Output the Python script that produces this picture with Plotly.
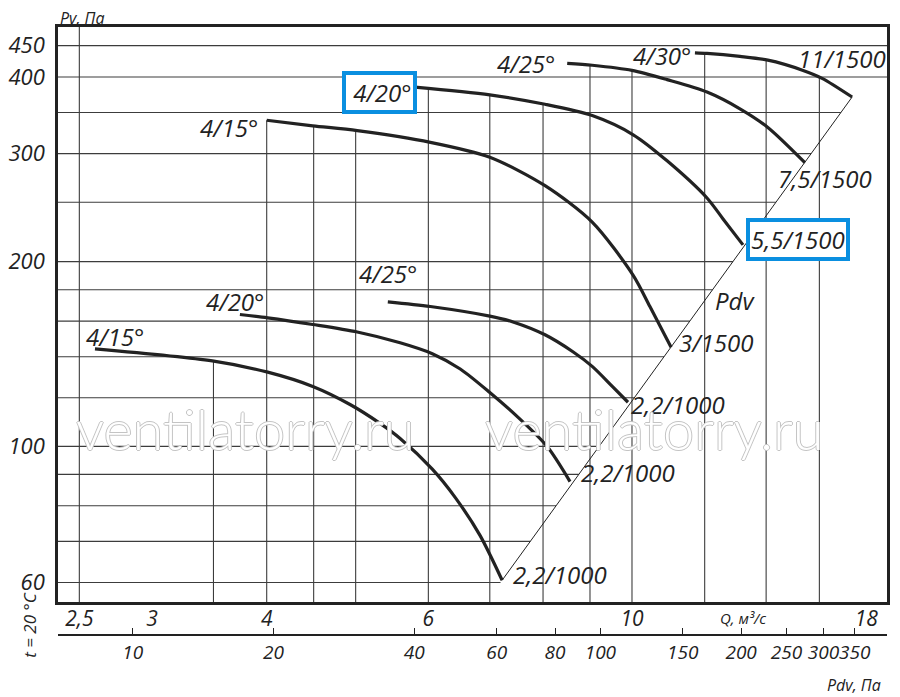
import numpy as np
import plotly.graph_objects as go

# curves: Q (m3/s) vs Pv (Pa)
q_a = [2.60, 3.49, 4.01, 4.49, 4.93, 5.31, 5.59, 6.06, 6.42, 6.83, 7.22]
p_a = [144.2, 137.8, 132.1, 125.2, 117, 109.1, 103, 91.8, 82.5, 71.6, 60.5]
q_b = [3.74, 4.01, 4.49, 5.02, 5.59, 6.06, 6.50, 7.00, 7.49, 8.08, 8.56]
p_b = [164, 162, 158, 153.6, 147.5, 141.6, 133.7, 122.4, 112, 100, 87.6]
q_c = [5.42, 6.03, 7.00, 7.42, 8.04, 8.63, 9.05, 9.53, 9.90]
p_c = [172, 169, 163, 159.5, 152, 142.5, 135, 125, 118]
q_d = [4.0, 4.49, 5.02, 6.03, 7.0, 8.04, 9.05, 10.03, 10.46, 11.03]
p_d = [340, 333, 327, 313, 296, 266, 232, 190, 169, 145]
q_e = [5.80, 7.00, 8.04, 9.05, 10.03, 10.92, 12.07, 12.56, 13.21]
p_e = [385, 374, 361, 346, 322, 292, 254, 235, 213]
q_f = [8.50, 9.05, 10.0, 10.92, 12.07, 13.11, 14.06, 15.43]
p_f = [421, 418, 410, 396, 378, 355, 331, 290]
q_g = [11.71, 12.07, 13.11, 14.06, 15.36, 16.11, 17.37]
p_g = [438, 437, 432, 426, 410, 398, 371]

start_labels = ["4/15°", "4/20°", "4/25°", "4/15°", "4/20°", "4/25°", "4/30°"]
end_labels = ["2,2/1000", "2,2/1000", "2,2/1000", "3/1500", "5,5/1500", "7,5/1500", "11/1500"]

# Pdv line (where the curves end)
pdv_q = [7.22, 17.37]
pdv_p = [60.5, 371]

grid_q = [2.5, 3.5, 4, 4.5, 5, 6, 7, 8, 9, 10, 12, 14, 16]
grid_p = [60, 70, 80, 90, 100, 120, 140, 160, 180, 200, 250, 300, 350, 400, 450]

q_ticks = [2.5, 3, 4, 6, 10, 18]
q_ticktext = ["2,5", "3", "4", "6", "10", "18"]
p_ticks = [60, 100, 200, 300, 400, 450]
p_ticktext = ["60", "100", "200", "300", "400", "450"]
pdv_ticks = [10, 20, 40, 60, 80, 100, 150, 200, 250, 300, 350]

curves = [(q_a, p_a), (q_b, p_b), (q_c, p_c), (q_d, p_d), (q_e, p_e), (q_f, p_f), (q_g, p_g)]

x_range = [0.3747, 1.2778]
y_range = [1.7463, 2.6835]
ink = "#222222"
grid_col = "#3c3c3c"
blue = "#0a8fe0"
FONT = "Open Sans"

fig = go.Figure()

# vertical grid: from bottom up to the highest curve above it
vx, vy = [], []
for q in grid_q:
    tops = []
    for cq, cp in curves:
        if cq[0] <= q <= cq[-1]:
            tops.append(10 ** np.interp(np.log10(q), np.log10(cq), np.log10(cp)))
    top = max(tops) if tops else 10 ** y_range[1]
    vx += [q, q, None]
    vy += [10 ** y_range[0], top, None]

# horizontal grid: from left edge to the Pdv line
k = (np.log10(pdv_q[1]) - np.log10(pdv_q[0])) / (np.log10(pdv_p[1]) - np.log10(pdv_p[0]))
hx, hy = [], []
for p in grid_p:
    if p <= pdv_p[1]:
        right = 10 ** (np.log10(pdv_q[0]) + k * (np.log10(p) - np.log10(pdv_p[0])))
    else:
        right = 10 ** x_range[1]
    hx += [10 ** x_range[0], right, None]
    hy += [p, p, None]

fig.add_trace(go.Scatter(x=vx, y=vy, mode="lines", line=dict(color=grid_col, width=1.1),
                         hoverinfo="skip", showlegend=False))
fig.add_trace(go.Scatter(x=hx, y=hy, mode="lines", line=dict(color=grid_col, width=1.1),
                         hoverinfo="skip", showlegend=False))
fig.add_trace(go.Scatter(x=pdv_q, y=pdv_p, mode="lines", line=dict(color=ink, width=1),
                         hoverinfo="skip", showlegend=False))

for cq, cp in curves:
    fig.add_trace(go.Scatter(x=cq, y=cp, mode="lines",
                             line=dict(color=ink, width=3.2, shape="spline", smoothing=0.8),
                             showlegend=False))

# dummy trace so the Pdv axis gets drawn
fig.add_trace(go.Scatter(x=[pdv_ticks[0]], y=[p_ticks[0]], xaxis="x2", yaxis="y",
                         mode="markers", marker=dict(opacity=0), hoverinfo="skip",
                         showlegend=False))

lab_font = dict(family=FONT, size=24, color=ink, style="italic")

start_shift = [(50, 12), (25, 13), (30, 28), (-8, -7), (2, -5), (-11, 0), (-3, -3)]
end_shift = [(10, 6), (10, 9), (2, -2), (7, 5), (3, 5), (-28, -16), (-55, 39)]
boxed_start = [False, False, False, False, True, False, False]
boxed_end = [False, False, False, False, True, False, False]

for i, (cq, cp) in enumerate(curves):
    fig.add_annotation(x=np.log10(cq[0]), y=np.log10(cp[0]),
                       text=("\u00a0" if boxed_start[i] else "") + start_labels[i],
                       showarrow=False, xanchor="right", yanchor="middle",
                       xshift=start_shift[i][0], yshift=start_shift[i][1], font=lab_font,
                       bordercolor=blue if boxed_start[i] else None,
                       borderwidth=4 if boxed_start[i] else 0, borderpad=1,
                       bgcolor="white" if boxed_start[i] else None)
    fig.add_annotation(x=np.log10(cq[-1]), y=np.log10(cp[-1]), text=end_labels[i],
                       showarrow=False, xanchor="left", yanchor="middle",
                       xshift=end_shift[i][0], yshift=end_shift[i][1], font=lab_font,
                       bordercolor=blue if boxed_end[i] else None,
                       borderwidth=4 if boxed_end[i] else 0, borderpad=1,
                       bgcolor="white" if boxed_end[i] else None)

fig.add_annotation(x=np.log10(12.95), y=np.log10(173), text="Pdv", showarrow=False,
                   font=lab_font)

# watermarks
wm_font = dict(family="Lato", size=56, color="white", weight=300,
               shadow="1px 0 0 #c4c4c4, -1px 0 0 #c4c4c4, 0 1px 0 #c4c4c4, 0 -1px 0 #c4c4c4")
for wx in [3.79, 10.59]:
    fig.add_annotation(x=np.log10(wx), y=np.log10(106.8), text="ventilatorry.ru",
                       showarrow=False, font=wm_font)

ax_font = dict(family=FONT, size=16, color=ink, style="italic")
fig.add_annotation(xref="paper", yref="paper", x=0, y=1, xanchor="left", yanchor="bottom",
                   text="Pv, Па", showarrow=False, font=ax_font, yshift=-4)
fig.add_annotation(xref="x", yref="paper", x=np.log10(13.2), y=0.0873, yanchor="top",
                   xanchor="center", text="Q, м³/с", showarrow=False, yshift=-4,
                   font=dict(family=FONT, size=15, color=ink, style="italic"))
fig.add_annotation(xref="paper", yref="paper", x=1, y=0, xanchor="right", yanchor="top",
                   text="Pdv, Па", showarrow=False, font=ax_font, xshift=-4, yshift=-15)
fig.add_annotation(xref="paper", yref="paper", x=-0.034, y=0.0508, textangle=-90,
                   xanchor="center", yanchor="middle",
                   text="t = 20 °C", showarrow=False,
                   font=dict(family=FONT, size=17, color=ink, style="italic"))

# page body adds an 8px offset, so the figure is sized to fit the window
fig.update_layout(
    width=892, height=689,
    margin=dict(l=50, r=13, t=19, b=40),
    plot_bgcolor="white", paper_bgcolor="white",
    font=dict(family=FONT, color=ink),
    xaxis=dict(type="log", range=x_range, showgrid=False, zeroline=False, automargin=False,
               showline=True, mirror=True, linecolor=ink, linewidth=2.5,
               tickvals=q_ticks, ticktext=q_ticktext, ticks="", tickangle=0,
               ticklabelstandoff=-4,
               tickfont=dict(family=FONT, size=21, color=ink, style="italic")),
    yaxis=dict(type="log", range=y_range, domain=[0.0873, 1], showgrid=False,
               zeroline=False, showline=True, mirror=True, linecolor=ink, linewidth=2.5,
               tickvals=p_ticks, ticktext=p_ticktext, ticks="", automargin=False,
               ticklabelstandoff=6,
               tickfont=dict(family=FONT, size=22, color=ink, style="italic")),
    xaxis2=dict(type="log", range=[0.840, 2.613], overlaying="x", anchor="free",
                position=0.0349, side="bottom", showgrid=False, zeroline=False,
                automargin=False, showline=True, linecolor=ink, linewidth=2,
                ticks="inside", ticklen=6, tickcolor=ink, tickvals=pdv_ticks, tickangle=0,
                tickfont=dict(family=FONT, size=19, color=ink, style="italic")),
)

fig.write_html("out.html")
